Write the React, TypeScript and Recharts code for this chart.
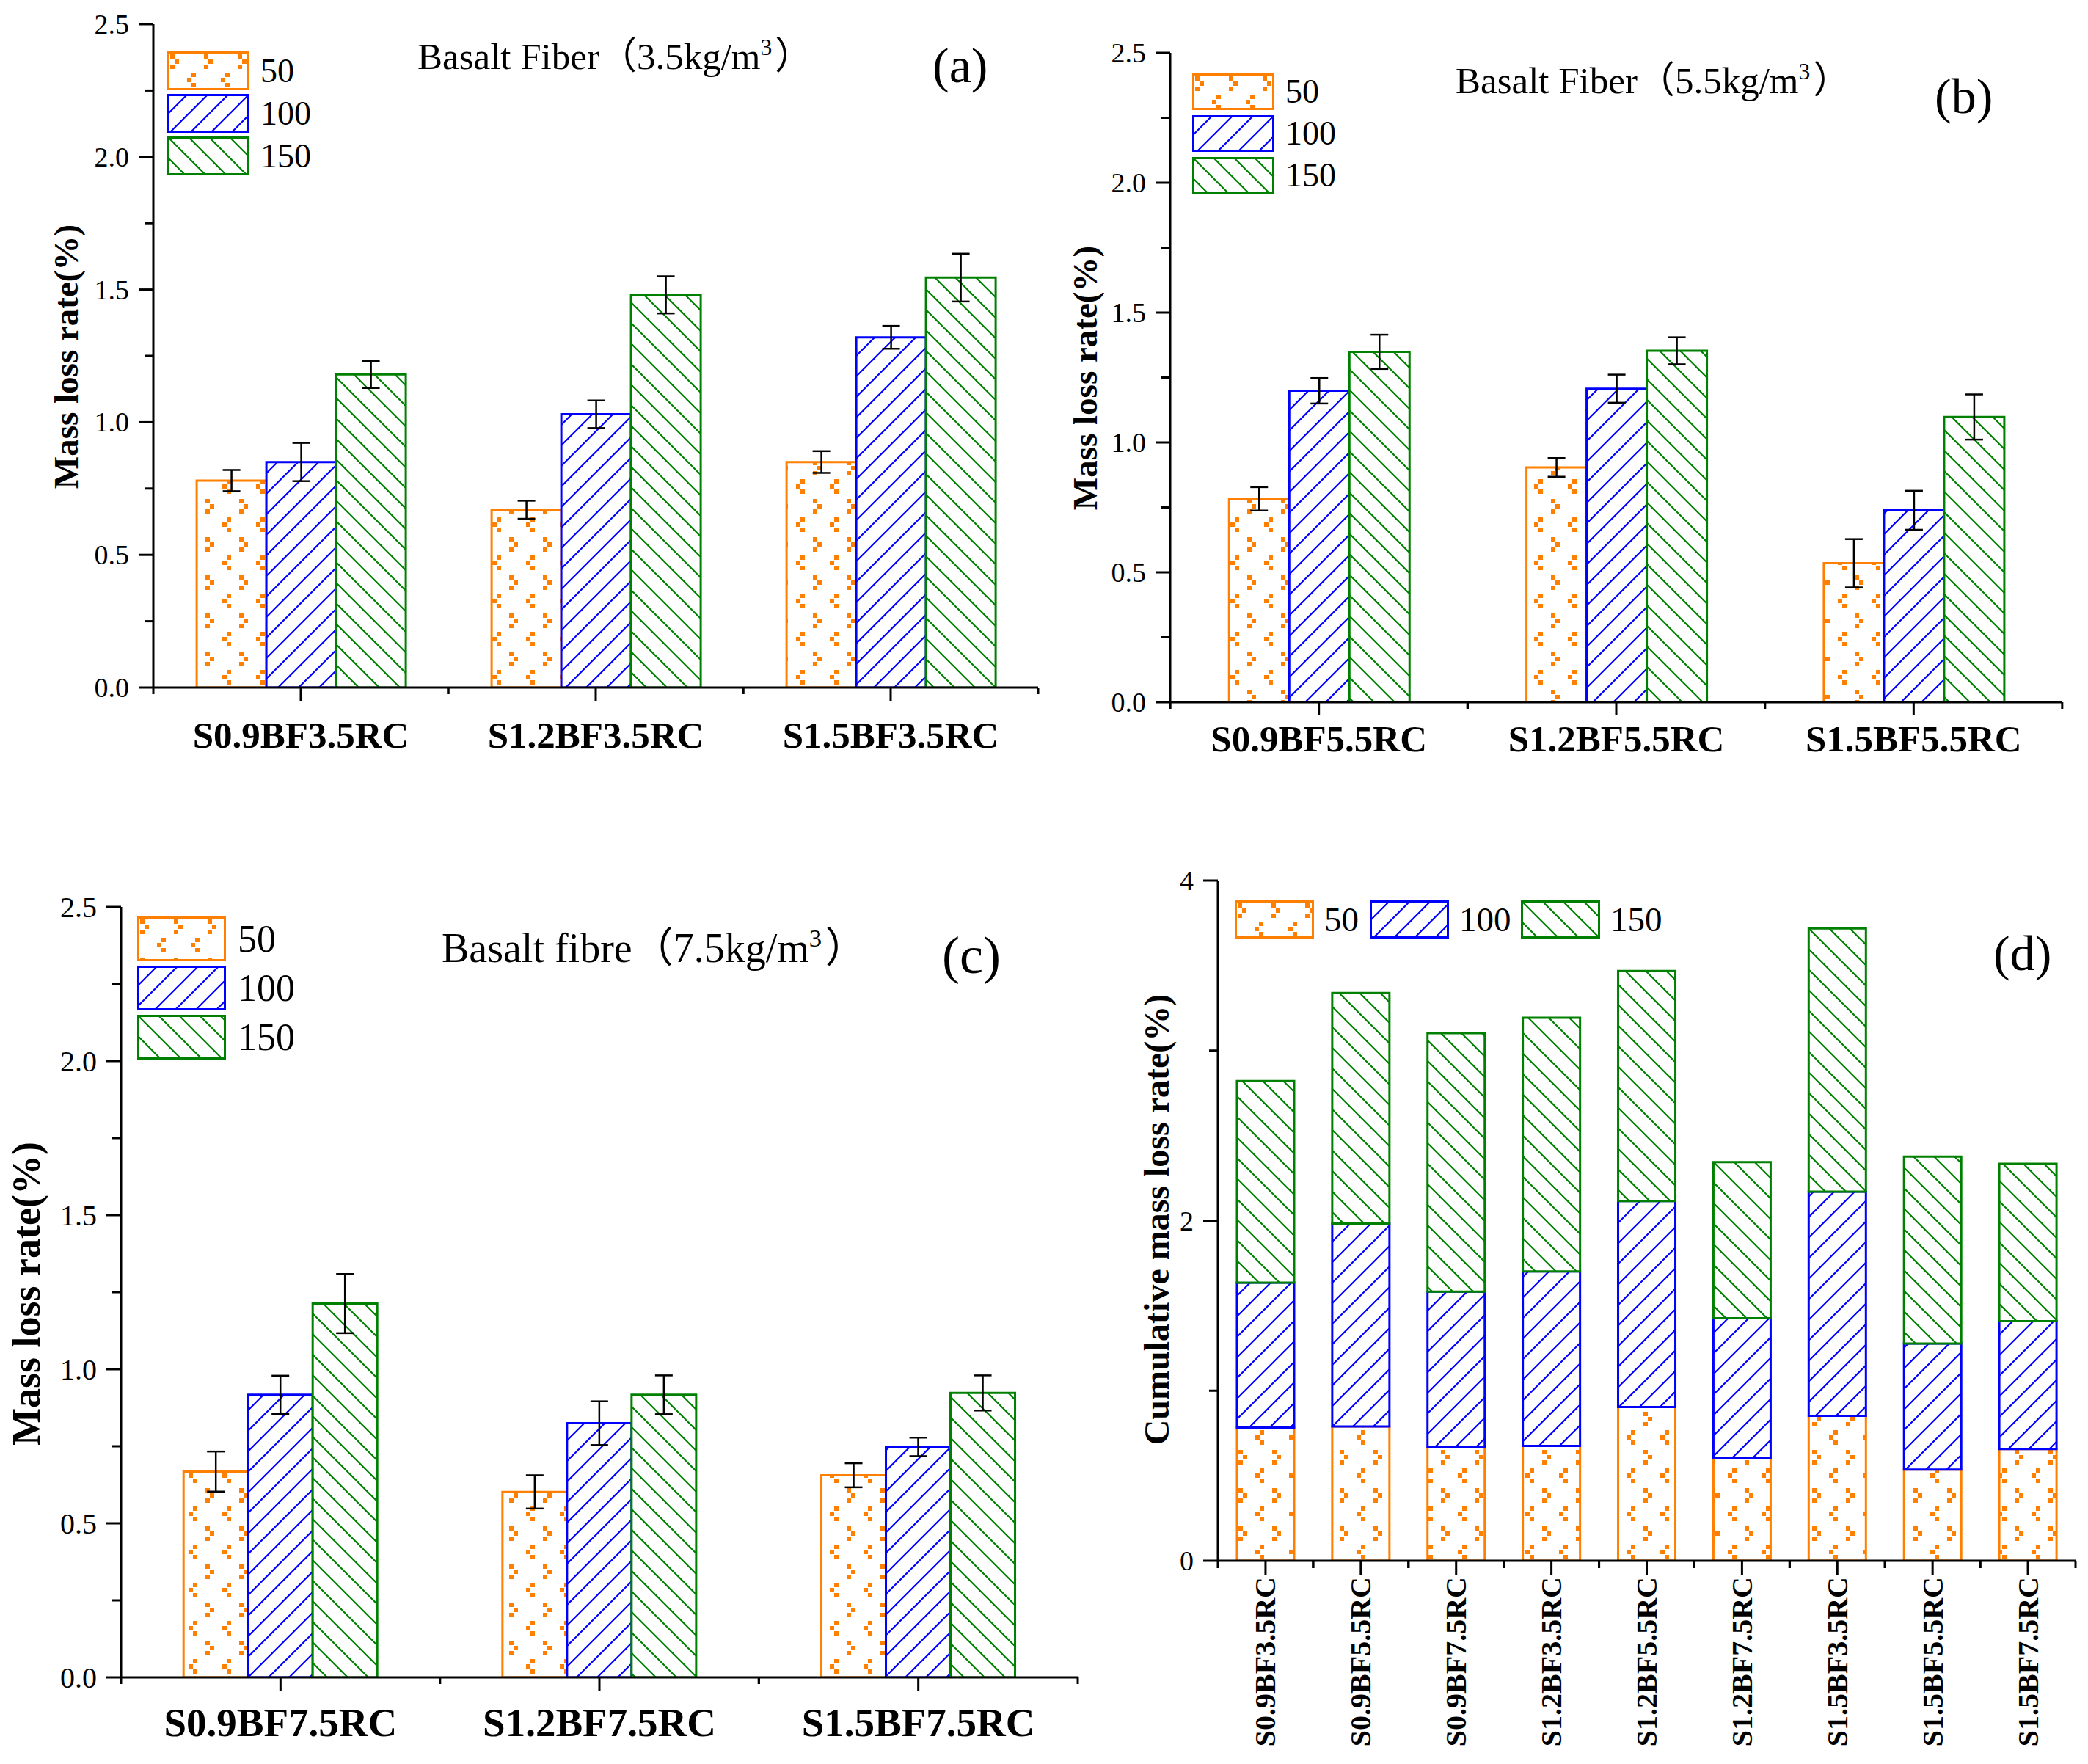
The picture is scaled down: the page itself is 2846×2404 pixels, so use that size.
import React from 'react';
import { BarChart, Bar, XAxis, YAxis, ErrorBar, Legend } from 'recharts';

const SERIF = "'Liberation Serif', 'Times New Roman', 'Noto Sans CJK SC', serif";
const ORANGE = '#FF8000';
const BLUE = '#0000FF';
const GREEN = '#008000';

// ---------- data ----------
const seriesNames = ['50', '100', '150'];

const categoriesA = ['S0.9BF3.5RC', 'S1.2BF3.5RC', 'S1.5BF3.5RC'];
const a50 = [0.78, 0.67, 0.85];
const a100 = [0.85, 1.03, 1.32];
const a150 = [1.18, 1.48, 1.545];
const errA50 = [0.04, 0.034, 0.041];
const errA100 = [0.072, 0.052, 0.043];
const errA150 = [0.051, 0.07, 0.09];

const categoriesB = ['S0.9BF5.5RC', 'S1.2BF5.5RC', 'S1.5BF5.5RC'];
const b50 = [0.783, 0.904, 0.535];
const b100 = [1.199, 1.207, 0.739];
const b150 = [1.349, 1.353, 1.098];
const errB50 = [0.045, 0.036, 0.093];
const errB100 = [0.049, 0.054, 0.075];
const errB150 = [0.066, 0.052, 0.087];

const categoriesC = ['S0.9BF7.5RC', 'S1.2BF7.5RC', 'S1.5BF7.5RC'];
const c50 = [0.668, 0.602, 0.656];
const c100 = [0.917, 0.825, 0.748];
const c150 = [1.213, 0.917, 0.923];
const errC50 = [0.065, 0.054, 0.039];
const errC100 = [0.062, 0.071, 0.03];
const errC150 = [0.096, 0.063, 0.057];

const categoriesD = [
  'S0.9BF3.5RC', 'S0.9BF5.5RC', 'S0.9BF7.5RC',
  'S1.2BF3.5RC', 'S1.2BF5.5RC', 'S1.2BF7.5RC',
  'S1.5BF3.5RC', 'S1.5BF5.5RC', 'S1.5BF7.5RC',
];
const d50 = [0.783, 0.79, 0.668, 0.675, 0.904, 0.602, 0.852, 0.536, 0.657];
const d100 = [0.852, 1.193, 0.915, 1.026, 1.211, 0.824, 1.318, 0.741, 0.752];
const d150 = [1.186, 1.356, 1.52, 1.492, 1.353, 0.918, 1.548, 1.099, 0.925];

const ticksABC = [0, 0.25, 0.5, 0.75, 1, 1.25, 1.5, 1.75, 2, 2.25, 2.5];
const majorsABC = [0, 0.5, 1, 1.5, 2, 2.5];
const ticksD = [0, 1, 2, 3, 4];
const majorsD = [0, 2, 4];

const build = (cats: string[], s50: number[], s100: number[], s150: number[], e50?: number[], e100?: number[], e150?: number[]) =>
  cats.map((name, i) => ({
    name,
    v50: s50[i], v100: s100[i], v150: s150[i],
    e50: e50 ? e50[i] : 0, e100: e100 ? e100[i] : 0, e150: e150 ? e150[i] : 0,
  }));

const dataA = build(categoriesA, a50, a100, a150, errA50, errA100, errA150);
const dataB = build(categoriesB, b50, b100, b150, errB50, errB100, errB150);
const dataC = build(categoriesC, c50, c100, c150, errC50, errC100, errC150);
const dataD = build(categoriesD, d50, d100, d150);

const COLORS = [ORANGE, BLUE, GREEN];
const PATS = ['url(#pat50)', 'url(#pat100)', 'url(#pat150)'];
const KEYS = ['v50', 'v100', 'v150'];
const EKEYS = ['e50', 'e100', 'e150'];

// ---------- tick renderers ----------
const makeYTick = (majors: number[], fontSize: number, digits: number, majorLen: number, minorLen: number, gap: number) =>
  (props: any) => {
    const { x, y, payload } = props;
    const v = payload.value;
    const isMajor = majors.some((m) => Math.abs(m - v) < 1e-9);
    return (
      <g>
        <line x1={x} x2={x - (isMajor ? majorLen : minorLen)} y1={y} y2={y} stroke="#000" strokeWidth={3} />
        {isMajor && (
          <text x={x - majorLen - gap} y={y} textAnchor="end" dominantBaseline="central" fontSize={fontSize} fontFamily={SERIF} fill="#000">
            {v.toFixed(digits)}
          </text>
        )}
      </g>
    );
  };

const makeXTick = (band: number, fontSize: number, labelDy: number, majorLen: number, minorLen: number, rotated: boolean) =>
  (props: any) => {
    const { x, y, payload } = props;
    return (
      <g>
        <line x1={x} x2={x} y1={y} y2={y + majorLen} stroke="#000" strokeWidth={3} />
        <line x1={x - band / 2} x2={x - band / 2} y1={y} y2={y + minorLen} stroke="#000" strokeWidth={3} />
        <line x1={x + band / 2} x2={x + band / 2} y1={y} y2={y + minorLen} stroke="#000" strokeWidth={3} />
        {rotated ? (
          <text
            x={x}
            y={y + labelDy}
            transform={`rotate(-90 ${x} ${y + labelDy})`}
            textAnchor="end"
            dominantBaseline="central"
            fontSize={fontSize}
            fontWeight="bold"
            fontFamily={SERIF}
            fill="#000"
          >
            {payload.value}
          </text>
        ) : (
          <text x={x} y={y + labelDy} textAnchor="middle" fontSize={fontSize} fontWeight="bold" fontFamily={SERIF} fill="#000">
            {payload.value}
          </text>
        )}
      </g>
    );
  };

// ---------- legend ----------
type LegendCfg = {
  left: number; top: number; boxW: number; boxH: number; step: number;
  horizontal: boolean; fontSize: number; textGap: number; xs?: number[];
};

const LegendBody = ({ cfg }: { cfg: LegendCfg }) => (
  <div style={{ position: 'relative', width: 700, height: 260 }}>
    {seriesNames.map((n, i) => {
      const left = cfg.horizontal ? (cfg.xs ? cfg.xs[i] : i * cfg.step) : 0;
      const top = cfg.horizontal ? 0 : i * cfg.step;
      return (
        <div key={n} style={{ position: 'absolute', left, top, height: cfg.boxH, display: 'flex', alignItems: 'center' }}>
          <svg width={cfg.boxW} height={cfg.boxH} style={{ display: 'block' }}>
            <rect x={1.5} y={1.5} width={cfg.boxW - 3} height={cfg.boxH - 3} fill={PATS[i]} stroke={COLORS[i]} strokeWidth={3} />
          </svg>
          <span style={{ marginLeft: cfg.textGap, fontFamily: SERIF, fontSize: cfg.fontSize, lineHeight: 1, color: '#000' }}>{n}</span>
        </div>
      );
    })}
  </div>
);

// ---------- panel ----------
type PanelCfg = {
  data: any[];
  left: number; top: number; width: number; height: number;
  margin: { top: number; right: number; bottom: number; left: number };
  yAxisWidth: number; xAxisHeight: number;
  domain: [number, number]; ticks: number[]; majors: number[]; digits: number;
  yFont: number; xFont: number; labelDy: number; rotated: boolean;
  band: number; gap: string; stacked: boolean; legend: LegendCfg;
};

const Panel = ({ cfg }: { cfg: PanelCfg }) => (
  <div style={{ position: 'absolute', left: cfg.left, top: cfg.top }}>
    <BarChart
      width={cfg.width}
      height={cfg.height}
      data={cfg.data}
      margin={cfg.margin}
      barCategoryGap={cfg.gap}
      barGap={0}
    >
      <XAxis
        dataKey="name"
        height={cfg.xAxisHeight}
        axisLine={{ stroke: '#000', strokeWidth: 3 }}
        tickLine={false}
        tickSize={0}
        tickMargin={0}
        interval={0}
        tick={makeXTick(cfg.band, cfg.xFont, cfg.labelDy, cfg.rotated ? 20 : 18, cfg.rotated ? 10 : 9, cfg.rotated)}
      />
      <YAxis
        width={cfg.yAxisWidth}
        domain={cfg.domain}
        ticks={cfg.ticks}
        interval={0}
        allowDataOverflow
        axisLine={{ stroke: '#000', strokeWidth: 3 }}
        tickLine={false}
        tickSize={0}
        tickMargin={0}
        tick={makeYTick(cfg.majors, cfg.yFont, cfg.digits, 20, 12, 13)}
      />
      <Legend
        layout="horizontal"
        verticalAlign="middle"
        align="center"
        wrapperStyle={{ left: cfg.legend.left, top: cfg.legend.top, width: 700, height: 260 }}
        content={() => <LegendBody cfg={cfg.legend} />}
      />
      {KEYS.map((k, i) => (
        <Bar
          key={k}
          dataKey={k}
          name={seriesNames[i]}
          stackId={cfg.stacked ? 'stack' : undefined}
          fill={PATS[i]}
          stroke={COLORS[i]}
          strokeWidth={3}
          isAnimationActive={false}
        >
          {!cfg.stacked && <ErrorBar dataKey={EKEYS[i]} width={12} stroke="#000" strokeWidth={2.5} />}
        </Bar>
      ))}
    </BarChart>
  </div>
);

const panelA: PanelCfg = {
  data: dataA, left: 0, top: 0, width: 1420, height: 1100,
  margin: { top: 33, right: 5, bottom: 63, left: 0 },
  yAxisWidth: 209, xAxisHeight: 100,
  domain: [0, 2.5], ticks: ticksABC, majors: majorsABC, digits: 1,
  yFont: 38, xFont: 51, labelDy: 82, rotated: false, band: 402, gap: '14.7%', stacked: false,
  legend: { left: 228, top: 70, boxW: 112, boxH: 53, step: 58, horizontal: false, fontSize: 46, textGap: 15 },
};

const panelB: PanelCfg = {
  data: dataB, left: 1420, top: 0, width: 1426, height: 1100,
  margin: { top: 72, right: 35, bottom: 43, left: 0 },
  yAxisWidth: 175, xAxisHeight: 100,
  domain: [0, 2.5], ticks: ticksABC, majors: majorsABC, digits: 1,
  yFont: 38, xFont: 51, labelDy: 67, rotated: false, band: 405, gap: '19.8%', stacked: false,
  legend: { left: 205, top: 100, boxW: 112, boxH: 50, step: 57, horizontal: false, fontSize: 46, textGap: 15 },
};

const panelC: PanelCfg = {
  data: dataC, left: 0, top: 1140, width: 1500, height: 1264,
  margin: { top: 96, right: 31, bottom: 18, left: 0 },
  yAxisWidth: 165, xAxisHeight: 100,
  domain: [0, 2.5], ticks: ticksABC, majors: majorsABC, digits: 1,
  yFont: 40, xFont: 55, labelDy: 80, rotated: false, band: 434.7, gap: '19.6%', stacked: false,
  legend: { left: 187, top: 109, boxW: 121, boxH: 61, step: 67, horizontal: false, fontSize: 52, textGap: 16 },
};

const panelD: PanelCfg = {
  data: dataD, left: 1500, top: 1140, width: 1346, height: 1264,
  margin: { top: 60, right: 17, bottom: 17, left: 0 },
  yAxisWidth: 160, xAxisHeight: 260,
  domain: [0, 4], ticks: ticksD, majors: majorsD, digits: 0,
  yFont: 38, xFont: 40, labelDy: 22, rotated: true, band: 129.9, gap: '20%', stacked: true,
  legend: { left: 183, top: 87, boxW: 108, boxH: 52, step: 190, horizontal: true, fontSize: 47, textGap: 14, xs: [0, 184, 390] },
};

const Title = ({ x, y, fs, label }: { x: number; y: number; fs: number; label: string }) => (
  <text x={x} y={y} fontSize={fs} fontFamily={SERIF} fill="#000">
    {label}
    <tspan dy={-fs * 0.38} fontSize={fs * 0.62}>3</tspan>
    <tspan dy={fs * 0.38} dx={fs * 0.08}>）</tspan>
  </text>
);

const YLabel = ({ cx, cy, fs, text }: { cx: number; cy: number; fs: number; text: string }) => (
  <text
    x={cx}
    y={cy}
    transform={`rotate(-90 ${cx} ${cy})`}
    textAnchor="middle"
    dominantBaseline="central"
    fontSize={fs}
    fontWeight="bold"
    fontFamily={SERIF}
    fill="#000"
  >
    {text}
  </text>
);

export default function App() {
  return (
    <div style={{ position: 'absolute', left: 0, top: 0, width: 2846, height: 2404, background: '#fff', overflow: 'hidden' }}>
      <svg width={0} height={0} style={{ position: 'absolute' }}>
        <defs>
          <pattern id="pat50" patternUnits="userSpaceOnUse" width={46} height={52}>
            <rect width={46} height={52} fill="#fff" />
            <rect x={4} y={4} width={6} height={6} fill={ORANGE} />
            <rect x={10} y={11} width={6} height={6} fill={ORANGE} />
            <rect x={4} y={18} width={6} height={6} fill={ORANGE} />
            <rect x={33} y={29} width={6} height={6} fill={ORANGE} />
            <rect x={27} y={36} width={6} height={6} fill={ORANGE} />
            <rect x={33} y={43} width={6} height={6} fill={ORANGE} />
          </pattern>
          <pattern id="pat100" patternUnits="userSpaceOnUse" width={28} height={28}>
            <rect width={28} height={28} fill="#fff" />
            <path d="M0,28 L28,0 M-7,7 L7,-7 M21,35 L35,21" stroke={BLUE} strokeWidth={2.2} />
          </pattern>
          <pattern id="pat150" patternUnits="userSpaceOnUse" width={28} height={28}>
            <rect width={28} height={28} fill="#fff" />
            <path d="M0,0 L28,28 M-7,21 L7,35 M21,-7 L35,7" stroke={GREEN} strokeWidth={2.2} />
          </pattern>
        </defs>
      </svg>

      <Panel cfg={panelA} />
      <Panel cfg={panelB} />
      <Panel cfg={panelC} />
      <Panel cfg={panelD} />

      <svg width={2846} height={2404} style={{ position: 'absolute', left: 0, top: 0, pointerEvents: 'none' }}>
        <Title x={569} y={94} fs={51} label="Basalt Fiber（3.5kg/m" />
        <Title x={1984} y={127} fs={51} label="Basalt Fiber（5.5kg/m" />
        <Title x={602} y={1311} fs={56} label="Basalt fibre（7.5kg/m" />

        <text x={1271} y={112} fontSize={68} fontFamily={SERIF} fill="#000">(a)</text>
        <text x={2637} y={154} fontSize={68} fontFamily={SERIF} fill="#000">(b)</text>
        <text x={1284} y={1326} fontSize={72} fontFamily={SERIF} fill="#000">(c)</text>
        <text x={2717} y={1322} fontSize={68} fontFamily={SERIF} fill="#000">(d)</text>

        <YLabel cx={90} cy={486} fs={47} text="Mass loss rate(%)" />
        <YLabel cx={1479} cy={515} fs={47} text="Mass loss rate(%)" />
        <YLabel cx={36} cy={1763} fs={54} text="Mass loss rate(%)" />
        <YLabel cx={1576} cy={1662} fs={48} text="Cumulative mass loss rate(%)" />
      </svg>
    </div>
  );
}
